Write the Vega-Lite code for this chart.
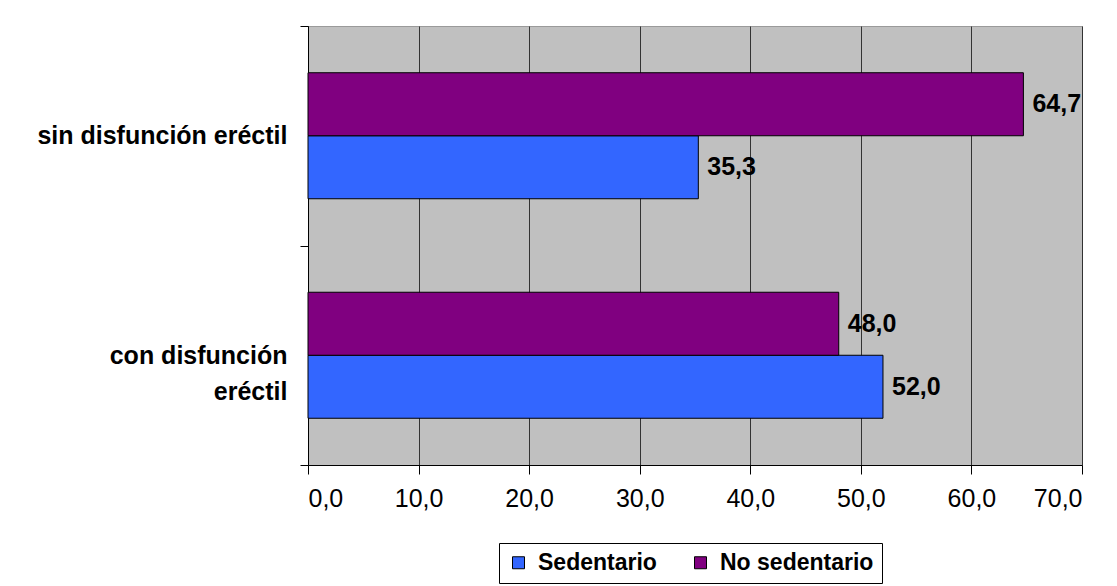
{
  "$schema": "https://vega.github.io/schema/vega-lite/v6.json",
  "width": 774,
  "height": 439,
  "autosize": {"type": "none"},
  "padding": {"left": 308, "top": 26, "right": 35, "bottom": 121},
  "background": "white",
  "config": {
    "locale": {"number": {"decimal": ",", "thousands": ".", "grouping": [3], "currency": ["", " €"]}},
    "font": "Liberation Sans",
    "view": {"fill": "#C0C0C0", "stroke": "#9A9A9A", "strokeWidth": 1}
  },
  "data": {
    "values": [
      {"grupo": "sin disfunción eréctil", "actividad": "Sedentario", "valor": 35.3},
      {"grupo": "sin disfunción eréctil", "actividad": "No sedentario", "valor": 64.7},
      {"grupo": "con disfunción eréctil", "actividad": "Sedentario", "valor": 52.0},
      {"grupo": "con disfunción eréctil", "actividad": "No sedentario", "valor": 48.0}
    ]
  },
  "encoding": {
    "y": {
      "field": "grupo",
      "type": "nominal",
      "sort": ["sin disfunción eréctil", "con disfunción eréctil"],
      "scale": {"paddingInner": 0, "paddingOuter": 0},
      "axis": {
        "title": null,
        "domainColor": "black",
        "tickColor": "black",
        "tickSize": 8,
        "tickBand": "extent",
        "labelFontSize": 25,
        "labelFontWeight": "bold",
        "labelColor": "black",
        "labelPadding": 13,
        "labelLimit": 400,
        "labelLineHeight": 36,
        "labelExpr": "datum.value == 'con disfunción eréctil' ? ['con disfunción', 'eréctil'] : datum.label"
      }
    },
    "yOffset": {
      "field": "actividad",
      "sort": ["No sedentario", "Sedentario"],
      "scale": {"paddingInner": 0, "paddingOuter": 0.742}
    },
    "x": {
      "field": "valor",
      "type": "quantitative",
      "scale": {"domain": [0, 70]},
      "axis": {
        "title": null,
        "values": [0, 10, 20, 30, 40, 50, 60, 70],
        "format": ".1f",
        "grid": true,
        "gridColor": "#333333",
        "domainColor": "black",
        "tickColor": "black",
        "tickSize": 9,
        "labelFontSize": 25,
        "labelColor": "black",
        "labelPadding": 12
      }
    }
  },
  "layer": [
    {
      "mark": {"type": "bar", "stroke": "black", "strokeWidth": 1},
      "encoding": {
        "color": {
          "field": "actividad",
          "type": "nominal",
          "scale": {"domain": ["Sedentario", "No sedentario"], "range": ["#3366FF", "#800080"]},
          "legend": {
            "title": null,
            "orient": "none",
            "legendX": 191,
            "legendY": 517,
            "direction": "horizontal",
            "strokeColor": "black",
            "fillColor": "white",
            "padding": 8,
            "symbolType": "square",
            "symbolSize": 144,
            "symbolStrokeColor": "black",
            "symbolStrokeWidth": 1,
            "symbolOpacity": 1,
            "labelFontSize": 23,
            "labelFontWeight": "bold",
            "labelColor": "black",
            "labelOffset": 8,
            "labelLimit": 400,
            "columnPadding": 32
          }
        }
      }
    },
    {
      "mark": {"type": "text", "align": "left", "baseline": "middle", "dx": 9, "fontSize": 25, "fontWeight": "bold", "color": "black"},
      "encoding": {
        "text": {"field": "valor", "type": "quantitative", "format": ".1f"}
      }
    }
  ]
}
